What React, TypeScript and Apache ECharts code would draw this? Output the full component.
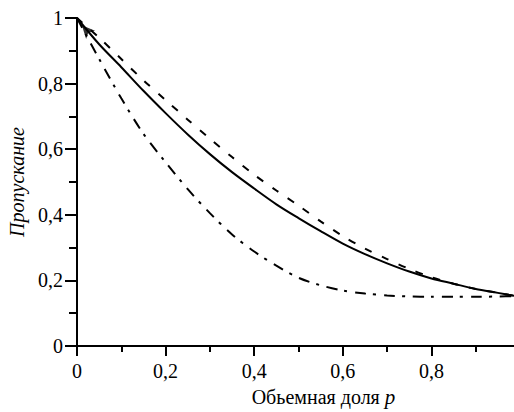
import React, { useEffect, useRef } from "react";
import * as echarts from "echarts";

const pValues = [0, 0.05, 0.1, 0.15, 0.2, 0.25, 0.3, 0.35, 0.4, 0.45, 0.5, 0.55, 0.6, 0.65, 0.7, 0.75, 0.8, 0.85, 0.9, 0.95, 0.99];
const solidCurve = [1, 0.92, 0.85, 0.778, 0.71, 0.645, 0.585, 0.53, 0.48, 0.432, 0.39, 0.35, 0.312, 0.28, 0.252, 0.227, 0.206, 0.19, 0.174, 0.162, 0.152];
const dashedCurve = [1, 0.94, 0.875, 0.81, 0.75, 0.69, 0.632, 0.576, 0.522, 0.474, 0.428, 0.38, 0.335, 0.297, 0.265, 0.235, 0.21, 0.19, 0.174, 0.162, 0.152];
const dashDotCurve = [1, 0.875, 0.755, 0.647, 0.56, 0.478, 0.405, 0.34, 0.288, 0.245, 0.208, 0.185, 0.169, 0.16, 0.154, 0.151, 0.15, 0.15, 0.15, 0.151, 0.152];
const arrowPoint = [0.011, 0.978];

const xName = "Обьемная доля {i|p}";
const yName = "Пропускание";

const FONT = "Liberation Serif";

const fmt = (v: number) => {
  if (v === 0) return "0";
  if (v >= 0.999) return "";
  return v.toFixed(1).replace(".", ",");
};
const fmtY = (v: number) => {
  if (v === 0) return "0";
  if (v === 1) return "1";
  return v.toFixed(1).replace(".", ",");
};

const pairs = (ys: number[]) => pValues.map((x, i) => [x, ys[i]]);

export default function App() {
  const ref = useRef<HTMLDivElement>(null);
  useEffect(() => {
    if (!ref.current) return;
    const chart = echarts.init(ref.current, null, { renderer: "svg" });
    const lineBase = { type: "line", showSymbol: false, symbol: "none", smooth: 0.3, animation: false };
    chart.setOption({
      animation: false,
      backgroundColor: "#fff",
      textStyle: { fontFamily: FONT },
      grid: { left: 77, right: -6, top: 18, bottom: 66, containLabel: false, outerBoundsMode: "none" },
      xAxis: {
        type: "value",
        min: 0,
        max: 1,
        interval: 0.2,
        axisLine: { lineStyle: { color: "#000", width: 2 } },
        axisTick: { length: 10, lineStyle: { color: "#000", width: 2 } },
        minorTick: { show: true, splitNumber: 2, length: 6, lineStyle: { color: "#000", width: 2 } },
        splitLine: { show: false },
        axisLabel: { formatter: fmt, color: "#000", fontFamily: FONT, fontSize: 20, margin: 15 },
        name: xName,
        nameLocation: "middle",
        nameGap: 40,
        nameTextStyle: {
          color: "#000",
          fontFamily: FONT,
          fontSize: 20,
          padding: [0, 0, 0, 50],
          rich: { i: { fontStyle: "italic", fontFamily: FONT, fontSize: 21, color: "#000" } },
        },
      },
      yAxis: {
        type: "value",
        min: 0,
        max: 1,
        interval: 0.2,
        axisLine: { lineStyle: { color: "#000", width: 2 } },
        axisTick: { length: 12, lineStyle: { color: "#000", width: 2 } },
        minorTick: { show: true, splitNumber: 2, length: 8, lineStyle: { color: "#000", width: 2 } },
        splitLine: { show: false },
        axisLabel: { formatter: fmtY, color: "#000", fontFamily: FONT, fontSize: 20, margin: 14 },
        name: yName,
        nameLocation: "middle",
        nameGap: 48,
        nameTextStyle: { color: "#000", fontFamily: FONT, fontSize: 20, fontStyle: "italic" },
      },
      series: [
        {
          ...lineBase,
          data: pairs(dashedCurve),
          lineStyle: { color: "#000", width: 2, type: [7.5, 11] },
        },
        {
          ...lineBase,
          data: pairs(dashDotCurve),
          lineStyle: { color: "#000", width: 2, type: [11, 7, 3, 8] },
        },
        {
          ...lineBase,
          data: pairs(solidCurve),
          lineStyle: { color: "#000", width: 2 },
        },
        {
          type: "scatter",
          data: [arrowPoint],
          symbol: "arrow",
          symbolSize: [9, 13],
          symbolRotate: 42,
          itemStyle: { color: "#000" },
          clip: false,
          z: 5,
        },
      ],
    });
    return () => chart.dispose();
  }, []);
  return (
    <div
      ref={ref}
      style={{ position: "fixed", left: 0, top: 0, width: 514, height: 412, background: "#fff" }}
    />
  );
}
